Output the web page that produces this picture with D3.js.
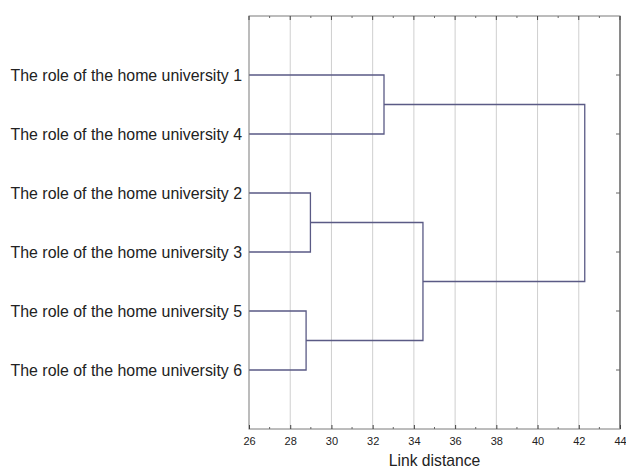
<!DOCTYPE html>
<html>
<head>
<meta charset="utf-8">
<script src="https://cdn.jsdelivr.net/npm/d3@7"></script>
<style>
  html, body { margin: 0; padding: 0; background: #fff; }
  svg { display: block; font-family: "Liberation Sans", Arial, sans-serif; }
</style>
</head>
<body>
<svg id="chart" width="626" height="470"></svg>
<script>
// Leaf order from top to bottom
const leaves = [
  "The role of the home university 1",
  "The role of the home university 4",
  "The role of the home university 2",
  "The role of the home university 3",
  "The role of the home university 5",
  "The role of the home university 6"
];
// Merge steps: [left member, right member, link distance, new cluster id]
const mergeLeft  = ["u5", "u2", "u1", "c56", "c14"];
const mergeRight = ["u6", "u3", "u4", "c23", "c2356"];
const mergeDist  = [28.77, 28.98, 32.55, 34.44, 42.29];
const mergeId    = ["c56", "c23", "c14", "c2356", "root"];
const leafIds    = ["u1", "u4", "u2", "u3", "u5", "u6"];
const xTicks = [26, 28, 30, 32, 34, 36, 38, 40, 42, 44];
const xMinor = [27, 29, 31, 33, 35, 37, 39, 41, 43];

const svg = d3.select("#chart");
const m = { left: 249, right: 620, top: 16, bottom: 429 };

const x = d3.scaleLinear().domain([26, 44]).range([m.left, m.right]);
const y = d3.scaleLinear().domain([0, 7]).range([m.top, m.bottom]);

// vertical grid lines
svg.append("g").selectAll("line").data(xTicks.slice(1, -1)).join("line")
  .attr("x1", d => x(d)).attr("x2", d => x(d))
  .attr("y1", m.top).attr("y2", m.bottom)
  .attr("stroke", "#cfcfcf").attr("stroke-width", 1);

// node positions: leaves sit at the link-distance floor of the axis
const pos = {};
leafIds.forEach((id, i) => { pos[id] = { x: x.domain()[0], y: i + 1 }; });

const linkColor = "#5a5a85";
const g = svg.append("g").attr("fill", "none").attr("stroke", linkColor).attr("stroke-width", 1.3);
mergeId.forEach((id, i) => {
  const a = pos[mergeLeft[i]], b = pos[mergeRight[i]], d = mergeDist[i];
  const path = d3.path();
  path.moveTo(x(a.x), y(a.y));
  path.lineTo(x(d), y(a.y));
  path.lineTo(x(d), y(b.y));
  path.lineTo(x(b.x), y(b.y));
  g.append("path").attr("d", path.toString());
  pos[id] = { x: d, y: (a.y + b.y) / 2 };
});

// frame
svg.append("rect")
  .attr("x", m.left).attr("y", m.top)
  .attr("width", m.right - m.left).attr("height", m.bottom - m.top)
  .attr("fill", "none").attr("stroke", "#7a7a7a").attr("stroke-width", 1);
svg.append("line")
  .attr("x1", m.right).attr("x2", m.right).attr("y1", m.top).attr("y2", m.bottom)
  .attr("stroke", "#8a8a8a").attr("stroke-width", 2);

// bottom axis
const axB = d3.axisBottom(x).tickValues(xTicks).tickSize(-4).tickPadding(8).tickFormat(d3.format("d"));
const gb = svg.append("g").attr("transform", `translate(0,${m.bottom})`).call(axB);
gb.select(".domain").remove();
gb.selectAll("line").attr("stroke", "#444");
gb.selectAll("text").attr("font-size", 11).attr("fill", "#222")
  .attr("font-family", "Liberation Sans, Arial, sans-serif");
svg.append("g").selectAll("line").data(xMinor).join("line")
  .attr("x1", d => x(d)).attr("x2", d => x(d))
  .attr("y1", m.bottom).attr("y2", m.bottom - 2).attr("stroke", "#666");

// top ticks
svg.append("g").selectAll("line").data(xTicks).join("line")
  .attr("x1", d => x(d)).attr("x2", d => x(d))
  .attr("y1", m.top).attr("y2", m.top + 4).attr("stroke", "#444");
svg.append("g").selectAll("line").data(xMinor).join("line")
  .attr("x1", d => x(d)).attr("x2", d => x(d))
  .attr("y1", m.top).attr("y2", m.top + 2).attr("stroke", "#666");

// right ticks at leaves
svg.append("g").selectAll("line").data(leafIds).join("line")
  .attr("x1", m.right - 4).attr("x2", m.right)
  .attr("y1", (d, i) => y(i + 1)).attr("y2", (d, i) => y(i + 1))
  .attr("stroke", "#666");

// leaf labels
svg.append("g").selectAll("text").data(leaves).join("text")
  .attr("x", 242).attr("y", (d, i) => y(i + 1))
  .attr("dy", "0.35em").attr("text-anchor", "end")
  .attr("font-size", 15.9).attr("fill", "#222")
  .text(d => d);

// axis title
svg.append("text")
  .attr("x", (m.left + m.right) / 2).attr("y", 466)
  .attr("text-anchor", "middle").attr("font-size", 15.7).attr("fill", "#222")
  .text("Link distance");
</script>
</body>
</html>
